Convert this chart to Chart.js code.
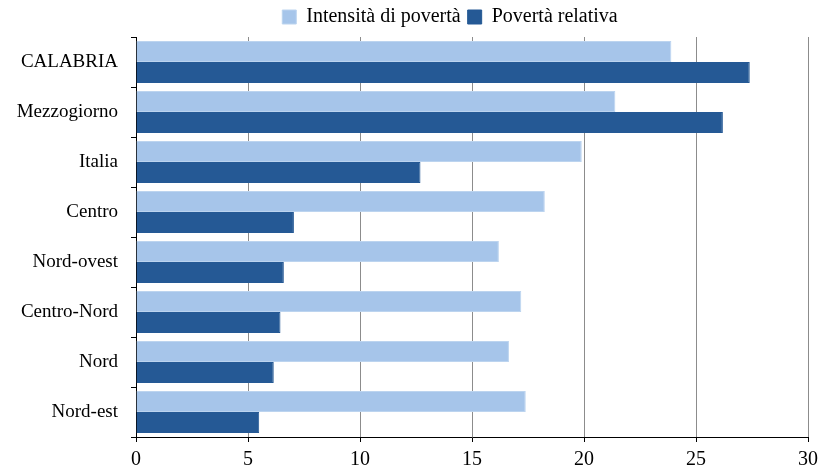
<!DOCTYPE html>
<html>
<head>
<meta charset="utf-8">
<script src="https://cdn.jsdelivr.net/npm/chart.js@4.4.0/dist/chart.umd.min.js"></script>
<style>
  html, body { margin: 0; padding: 0; background: #fff; }
  #wrap { width: 821px; height: 473px; }
</style>
</head>
<body>
<div id="wrap"><canvas id="chartPoverta" width="821" height="473"></canvas></div>
<script>
const CATEGORIE = ["CALABRIA", "Mezzogiorno", "Italia", "Centro", "Nord-ovest", "Centro-Nord", "Nord", "Nord-est"];
const INTENSITA = [23.9, 21.4, 19.9, 18.25, 16.2, 17.2, 16.65, 17.4];
const POVERTA_REL = [27.4, 26.2, 12.7, 7.05, 6.6, 6.45, 6.15, 5.5];
const TICKS_X = [0, 5, 10, 15, 20, 25, 30];

const COLOR_CHIARO = "#a6c5ea";
const COLOR_SCURO = "#255995";
const FONT = "'Liberation Serif', 'Times New Roman', serif";

// la legenda nell'originale è spostata a destra
const spostaLegenda = {
  id: "spostaLegenda",
  afterLayout(chart) {
    chart.legend.left += 46;
    chart.legend.right += 46;
  },
};

new Chart(document.getElementById("chartPoverta"), {
  type: "bar",
  data: {
    labels: CATEGORIE,
    datasets: [
      {
        label: "Intensità di povertà",
        data: INTENSITA,
        backgroundColor: COLOR_CHIARO,
        borderColor: "#bcd4ef",
        borderWidth: 1,
        categoryPercentage: 0.84,
        barPercentage: 1,
      },
      {
        label: "Povertà relativa",
        data: POVERTA_REL,
        backgroundColor: COLOR_SCURO,
        borderColor: COLOR_SCURO,
        borderWidth: 1,
        categoryPercentage: 0.84,
        barPercentage: 1,
      },
    ],
  },
  plugins: [spostaLegenda],
  options: {
    indexAxis: "y",
    responsive: false,
    animation: false,
    layout: { padding: { left: 0, right: 13, top: 0, bottom: 0 } },
    plugins: {
      tooltip: { enabled: false },
      legend: {
        position: "top",
        labels: {
          boxWidth: 14,
          boxHeight: 14,
          padding: 7,
          color: "#000",
          font: { family: FONT, size: 20 },
        },
      },
    },
    scales: {
      x: {
        min: 0,
        max: 30,
        afterBuildTicks: (axis) => { axis.ticks = TICKS_X.map((v) => ({ value: v })); },
        afterFit: (axis) => {
          axis.height = 36;
          axis.paddingRight = 13;
        },
        grid: { color: "#8c8c8c", tickColor: "#000", tickLength: 5, lineWidth: 1 },
        border: { color: "#000", width: 1 },
        ticks: { color: "#000", padding: 6, font: { family: FONT, size: 20 } },
      },
      y: {
        afterFit: (axis) => { axis.width = 136; },
        grid: { offset: true, drawOnChartArea: false, tickColor: "#000", tickLength: 5 },
        border: { color: "#000", width: 1 },
        ticks: { color: "#000", padding: 13, font: { family: FONT, size: 19 } },
      },
    },
  },
});
</script>
</body>
</html>
